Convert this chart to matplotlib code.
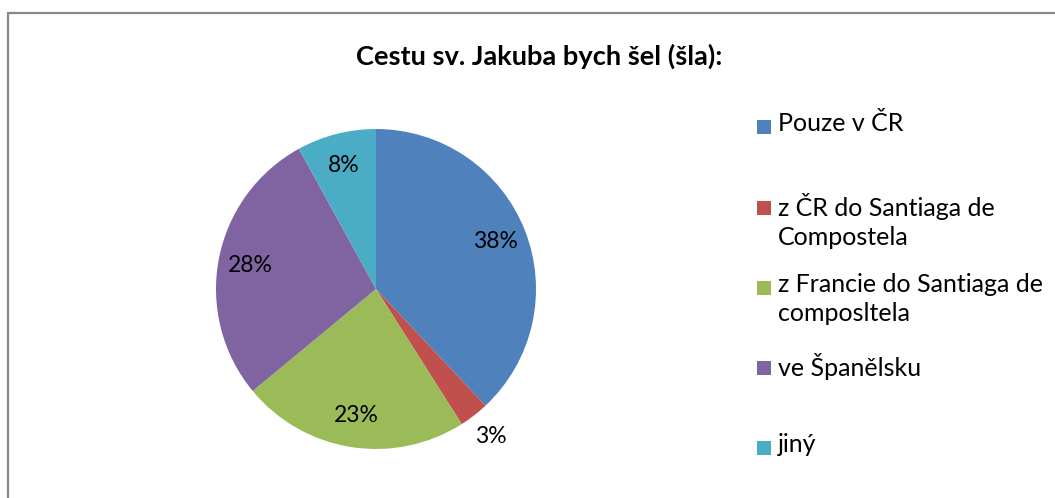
import numpy as np
import matplotlib.pyplot as plt
from matplotlib.patches import Rectangle

plt.rcParams['font.family'] = ['Lato', 'DejaVu Sans']

labels = ['Pouze v ČR', 'z ČR do Santiaga de\nCompostela',
          'z Francie do Santiaga de\ncomposltela', 've Španělsku', 'jiný']
values = [38, 3, 23, 28, 8]
colors = ['#4F81BD', '#C0504D', '#9BBB59', '#8064A2', '#4BACC6']
title = 'Cestu sv. Jakuba bych šel (šla):'

W, H = 1055, 498
fig = plt.figure(figsize=(W / 100, H / 100), dpi=100)

# outer frame (right/bottom edges cut off like in the screenshot)
fig.add_artist(Rectangle((7.5 / W, -0.1), 1.2, 1.1 - 13.5 / H,
                         transform=fig.transFigure, fill=False,
                         edgecolor='#878787', linewidth=1.6))

fig.text(539 / W, 1 - 56 / H, title, ha='center', va='center',
         fontsize=19.6, fontweight='bold')

cx, cy, r = 376, 289, 160
ax = fig.add_axes([(cx - r) / W, (H - cy - r) / H, 2 * r / W, 2 * r / H])
wedges, texts, autotexts = ax.pie(values, colors=colors, startangle=90,
                                  counterclock=False, autopct='%1.0f%%',
                                  pctdistance=0.8,
                                  textprops=dict(fontsize=16.5))
ax.set_xlim(-1, 1)
ax.set_ylim(-1, 1)
ax.set_aspect('equal')

# small slice label goes outside
for w, t, v in zip(wedges, autotexts, values):
    if v < 5:
        ang = np.deg2rad((w.theta1 + w.theta2) / 2)
        t.set_position((1.17 * np.cos(ang), 1.17 * np.sin(ang)))

# legend drawn like Excel: squares aligned to first line of each entry
leg_y = [127, 208, 288, 368, 448]
for lab, col, y in zip(labels, colors, leg_y):
    fig.add_artist(Rectangle((757 / W, 1 - (y + 7) / H), 14 / W, 14 / H,
                             transform=fig.transFigure, facecolor=col,
                             edgecolor='none'))
    fig.text(778 / W, 1 - (y - 15) / H, lab, ha='left', va='top',
             fontsize=18, linespacing=1.32)

fig.savefig('out.png', dpi=100)
